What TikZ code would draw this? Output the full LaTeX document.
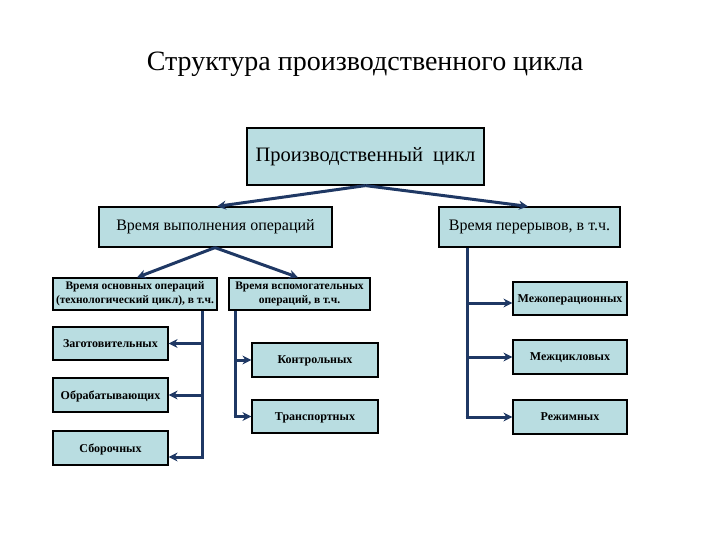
\documentclass[tikz,border=0pt]{standalone}
\usepackage{fontspec}
\setmainfont{Liberation Serif}
\usetikzlibrary{arrows.meta}
\definecolor{boxfill}{HTML}{B9DDE1}
\definecolor{conn}{HTML}{1F3864}
\tikzset{
  box/.style={draw=black, line width=1.2pt, fill=boxfill, inner sep=0pt, align=center},
  leaf/.style={box, text depth=0pt, font=\bfseries\fontsize{12}{14}\selectfont},
  sub/.style={box, font=\bfseries\fontsize{11.5}{14}\selectfont},
  line/.style={draw=conn, line width=3pt},
  arr/.style={line, -{Stealth[length=9pt,width=9pt]}}
}
\begin{document}
\begin{tikzpicture}[x=1pt,y=-1pt]
\useasboundingbox (0,0) rectangle (720,540);
\node (title) at (365,64) {\fontsize{28}{30}\selectfont Структура производственного цикла};
\node[box, minimum width=237pt, minimum height=57pt, font=\fontsize{20.5}{24}\selectfont] (top) at (365.5,156.5) {Производственный\ \ цикл};
\node[box, minimum width=233pt, minimum height=40pt, font=\fontsize{16}{18}\selectfont] (l2a) at (215.5,227) {Время выполнения операций};
\node[box, minimum width=181pt, minimum height=40pt, font=\fontsize{16}{18}\selectfont] (l2b) at (529.5,227) {Время перерывов, в т.ч.};
\node[sub, minimum width=164pt, minimum height=32pt] (l3a) at (135,294) {Время основных операций\\(технологический цикл), в т.ч.};
\node[sub, minimum width=141pt, minimum height=32pt] (l3b) at (299.5,294) {Время вспомогательных\\операций, в т.ч.};
% left leaves
\node[leaf, minimum width=115pt, minimum height=33pt] (zag) at (110.5,343.5) {Заготовительных};
\node[leaf, minimum width=115pt, minimum height=34pt] (obr) at (110.5,395) {Обрабатывающих};
\node[leaf, minimum width=115pt, minimum height=34pt, text depth=-8pt] (sbo) at (110.5,448) {Сборочных};
% middle leaves
\node[leaf, minimum width=126pt, minimum height=34pt] (kon) at (315,360) {Контрольных};
\node[leaf, minimum width=126pt, minimum height=33pt] (tra) at (315,416.5) {Транспортных};
% right leaves
\node[leaf, minimum width=114pt, minimum height=33pt] (mop) at (570,298.5) {Межоперационных};
\node[leaf, minimum width=114pt, minimum height=34pt] (mcy) at (570,357) {Межцикловых};
\node[leaf, minimum width=114pt, minimum height=34pt] (rez) at (570,417) {Режимных};
% top connectors
\draw[arr] (top.south) -- ([xshift=1.5pt]l2a.north);
\draw[arr] (top.south) -- ([xshift=-1.5pt]l2b.north);
\draw[arr] ([xshift=-0.5pt]l2a.south) -- ([xshift=2pt]l3a.north);
\draw[arr] ([xshift=-0.5pt]l2a.south) -- ([xshift=-1.5pt]l3b.north);
% left trunk
\coordinate (ta) at ([xshift=67pt]l3a.south);
\coordinate (tae) at (202,457);
\draw[line] (ta) -- ([yshift=-1.5pt]tae);
\draw[arr] (ta |- zag.east) -- (zag.east);
\draw[arr] (ta |- obr.east) -- (obr.east);
\draw[arr] ([xshift=1.5pt]tae) -- (sbo.east |- tae);
% middle trunk
\coordinate (tb) at ([xshift=-64.5pt]l3b.south);
\draw[line] (tb) -- ([yshift=-1.5pt]tb |- tra.west);
\draw[arr] (tb |- kon.west) -- (kon.west);
\draw[arr] ([xshift=-1.5pt]tb |- tra.west) -- (tra.west);
% right trunk
\coordinate (tc) at ([xshift=-62.5pt]l2b.south);
\draw[line] (tc) -- ([yshift=-1.5pt]tc |- rez.west);
\coordinate (m1) at (467,303);
\draw[arr] (m1) -- (mop.west |- m1);
\draw[arr] (tc |- mcy.west) -- (mcy.west);
\draw[arr] ([xshift=-1.5pt]tc |- rez.west) -- (rez.west);
\end{tikzpicture}
\end{document}
